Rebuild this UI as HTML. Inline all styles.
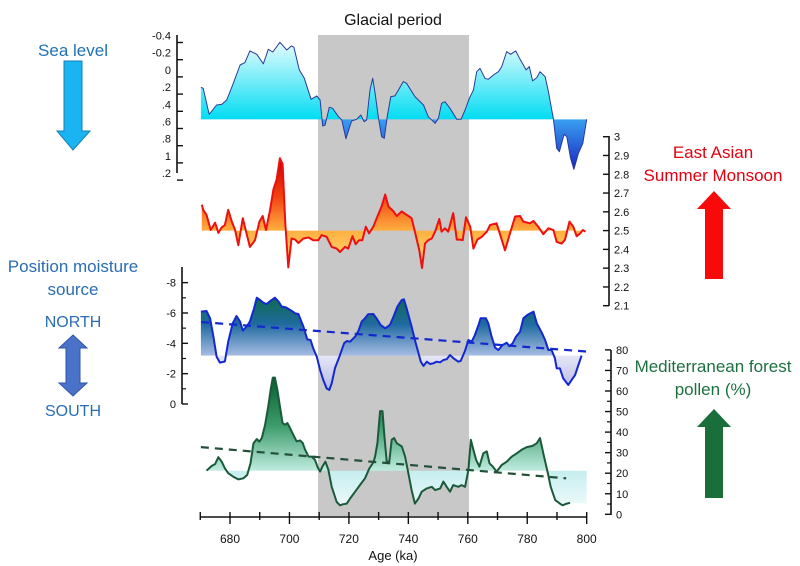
<!DOCTYPE html>
<html><head><meta charset="utf-8"><style>
html,body{margin:0;padding:0;background:#fff;}
svg{display:block;font-family:"Liberation Sans",sans-serif;}
</style></head><body>
<svg id="chart" width="800" height="566" viewBox="0 0 800 566">
<defs>
<linearGradient id="gSeaUp" gradientUnits="userSpaceOnUse" x1="0" y1="40" x2="0" y2="120"><stop offset="0" stop-color="#ecfdff"/><stop offset="1" stop-color="#00dcf2"/></linearGradient>
<linearGradient id="gSeaDn" gradientUnits="userSpaceOnUse" x1="0" y1="119" x2="0" y2="172"><stop offset="0" stop-color="#3aa0f0"/><stop offset="1" stop-color="#1522c0"/></linearGradient>
<linearGradient id="gMonUp" gradientUnits="userSpaceOnUse" x1="0" y1="160" x2="0" y2="231"><stop offset="0" stop-color="#cc0000"/><stop offset="0.5" stop-color="#f04010"/><stop offset="1" stop-color="#ffb040"/></linearGradient>
<linearGradient id="gMonDn" gradientUnits="userSpaceOnUse" x1="0" y1="231" x2="0" y2="268"><stop offset="0" stop-color="#ffb040"/><stop offset="1" stop-color="#ffe080"/></linearGradient>
<linearGradient id="gMoiUp" gradientUnits="userSpaceOnUse" x1="0" y1="292" x2="0" y2="356"><stop offset="0" stop-color="#0b6a3a"/><stop offset="0.5" stop-color="#1f6aa0"/><stop offset="1" stop-color="#a8bde4"/></linearGradient>
<linearGradient id="gMoiDn" gradientUnits="userSpaceOnUse" x1="0" y1="356" x2="0" y2="392"><stop offset="0" stop-color="#e6e6f6"/><stop offset="1" stop-color="#b4b4e4"/></linearGradient>
<linearGradient id="gPolUp" gradientUnits="userSpaceOnUse" x1="0" y1="378" x2="0" y2="471"><stop offset="0" stop-color="#08602c"/><stop offset="0.5" stop-color="#3a9a68"/><stop offset="1" stop-color="#c0ece0"/></linearGradient>
<linearGradient id="gPolDn" gradientUnits="userSpaceOnUse" x1="0" y1="471" x2="0" y2="506"><stop offset="0" stop-color="#c6eef0"/><stop offset="1" stop-color="#eef9fa"/></linearGradient>
</defs>
<rect x="318" y="35" width="151" height="481" fill="#c8c8c8"/>
<text x="393" y="25" font-size="16" text-anchor="middle" fill="#111">Glacial period</text>
<g id="series"></g>
<g id="axes"></g>

<text x="73" y="56" font-size="17" text-anchor="middle" fill="#1f72b8">Sea level</text>
<path d="M64,61 H82 V131 H90 L73,150 L57,131 H64 Z" fill="#1ab4f2" stroke="#1280b8" stroke-width="1"/>
<text x="73" y="272" font-size="17" text-anchor="middle" fill="#2a6db5">Position moisture</text>
<text x="73" y="295" font-size="17" text-anchor="middle" fill="#2a6db5">source</text>
<text x="73" y="327" font-size="16" text-anchor="middle" fill="#2a6db5">NORTH</text>
<path d="M73,335 L87,348 H80 V383 H87 L73,396 L59,383 H66 V348 H59 Z" fill="#4a72c8" stroke="#2e55a8" stroke-width="1"/>
<text x="73" y="416" font-size="16" text-anchor="middle" fill="#2a6db5">SOUTH</text>
<text x="713" y="158" font-size="17" text-anchor="middle" fill="#e3000f">East Asian</text>
<text x="713" y="181" font-size="17" text-anchor="middle" fill="#e3000f">Summer Monsoon</text>
<path d="M714,191 L731,209 H723 V279 H705 V209 H697 Z" fill="#f80a0a"/>
<text x="713" y="372" font-size="17" text-anchor="middle" fill="#1d7040">Mediterranean forest</text>
<text x="713" y="395" font-size="17" text-anchor="middle" fill="#1d7040">pollen (%)</text>
<path d="M714,409 L731,427 H723 V498 H705 V427 H697 Z" fill="#1a6e3a"/>
</svg>
<script>
// ---------- data ----------
const seaAge = [670.2,671.0,673.0,675.5,677.2,678.9,681.1,683.4,685.0,686.7,689.0,691.2,692.9,694.4,696.8,699.1,700.7,701.5,703.3,705.0,707.3,709.2,710.3,711.2,712.0,713.4,714.5,716.5,717.6,719.0,720.9,722.6,724.0,725.1,726.0,727.1,728.0,728.8,729.9,731.0,731.9,732.9,734.1,735.5,738.3,739.4,742.2,745.1,746.7,749.0,750.1,751.2,752.3,754.0,756.3,757.7,759.1,760.5,761.9,763.0,764.1,765.8,766.9,768.6,770.3,771.4,773.1,774.4,776.1,777.6,779.6,780.7,781.8,783.2,784.3,786.0,787.1,788.8,789.9,790.8,792.4,793.3,794.6,795.7,797.2,798.7,800.0];
const seaVal = [0.115,0.127,0.427,0.319,0.312,0.262,0.069,-0.142,-0.169,-0.304,-0.265,-0.154,-0.323,-0.292,-0.404,-0.315,-0.362,-0.346,-0.085,0.012,0.254,0.215,0.262,0.562,0.550,0.346,0.358,0.454,0.492,0.708,0.504,0.485,0.435,0.512,0.492,0.146,0.012,0.185,0.454,0.685,0.704,0.454,0.223,0.215,0.050,0.069,0.223,0.319,0.454,0.531,0.473,0.300,0.281,0.358,0.485,0.485,0.377,0.242,0.146,-0.065,-0.104,0.012,0.023,-0.027,-0.065,-0.123,-0.296,-0.265,-0.304,-0.208,-0.085,-0.123,0.042,0.004,-0.065,-0.008,0.165,0.481,0.819,0.858,0.658,0.685,0.935,1.062,0.877,0.762,0.485];
const seaTicks = ["-0.4","-0.2","0",".2",".4",".6",".8","1",".2"];

const monAge = [670.5,671.0,672.1,673.5,675.0,676.1,677.2,678.3,679.4,680.6,681.7,682.8,684.3,685.4,686.7,688.4,689.9,691.0,692.1,693.5,694.6,695.7,696.8,697.7,698.6,699.6,700.7,701.9,703.0,704.7,706.4,708.0,709.7,710.8,712.5,714.2,715.9,717.0,718.7,719.8,721.2,722.3,723.4,724.5,725.7,726.8,728.2,729.6,731.0,732.2,733.3,735.0,736.1,737.8,739.4,741.1,742.2,743.7,744.6,745.6,746.7,747.9,749.0,750.4,751.2,752.3,753.4,755.1,756.3,757.4,758.3,759.4,760.8,761.9,763.2,764.7,766.4,767.5,769.7,771.1,772.5,774.2,775.9,777.6,778.7,780.9,782.1,783.7,785.4,787.1,788.8,789.9,791.6,792.7,794.2,795.5,796.6,797.8,798.7,799.6];
const monVal = [2.638,2.611,2.584,2.503,2.542,2.488,2.517,2.530,2.611,2.548,2.503,2.422,2.566,2.494,2.413,2.449,2.548,2.578,2.503,2.611,2.719,2.773,2.885,2.854,2.539,2.304,2.458,2.452,2.434,2.458,2.463,2.449,2.449,2.476,2.467,2.413,2.404,2.386,2.413,2.404,2.470,2.427,2.449,2.449,2.521,2.485,2.521,2.575,2.629,2.692,2.629,2.602,2.578,2.602,2.584,2.566,2.494,2.395,2.301,2.431,2.449,2.458,2.494,2.562,2.494,2.512,2.494,2.593,2.452,2.452,2.449,2.571,2.521,2.404,2.452,2.467,2.494,2.530,2.539,2.467,2.395,2.485,2.575,2.578,2.548,2.539,2.551,2.521,2.481,2.512,2.503,2.440,2.431,2.452,2.548,2.521,2.470,2.485,2.503,2.494];
const monTicks = ["3","2.9","2.8","2.7","2.6","2.5","2.4","2.3","2.2","2.1"];

const moiAge = [670.2,672.1,673.3,674.4,675.5,676.6,678.3,679.4,680.9,682.2,683.4,684.3,685.6,686.7,688.1,689.0,690.1,691.2,692.3,693.7,695.1,696.3,697.4,698.8,700.7,701.9,703.0,704.7,706.0,707.1,708.0,709.2,710.3,711.4,712.5,713.4,714.2,715.3,716.8,718.4,719.3,720.4,722.1,723.2,724.3,725.4,726.5,728.2,729.3,730.7,732.2,733.8,735.0,736.3,737.8,738.5,739.4,741.1,742.2,743.4,744.2,745.1,746.2,747.3,748.4,749.5,750.7,751.8,752.9,754.0,755.2,756.8,757.6,759.1,760.2,761.3,762.4,763.6,764.3,766.1,766.9,768.0,769.2,770.3,771.7,773.1,774.0,775.1,776.2,777.6,778.7,780.0,782.1,783.2,784.9,786.0,787.1,788.2,789.3,789.9,791.0,792.1,793.8,795.3,796.1,797.2,798.3];
const moiVal = [-6.09,-6.13,-5.65,-4.44,-3.12,-2.73,-2.80,-4.11,-5.32,-5.80,-5.43,-4.84,-5.10,-5.43,-6.31,-7.01,-6.86,-6.68,-6.59,-6.81,-7.01,-6.75,-6.42,-6.37,-6.15,-5.98,-5.93,-5.10,-4.26,-4.22,-3.67,-3.12,-2.24,-1.58,-1.03,-0.92,-1.36,-2.35,-3.12,-4.00,-4.15,-4.11,-4.44,-4.81,-5.43,-5.65,-5.91,-5.93,-5.65,-5.21,-4.99,-5.21,-5.76,-6.42,-6.86,-6.90,-6.31,-5.10,-4.22,-3.34,-2.79,-2.51,-2.79,-2.64,-2.68,-2.79,-2.75,-2.90,-2.95,-3.23,-3.01,-2.79,-2.84,-3.52,-4.22,-4.11,-4.55,-5.21,-5.65,-5.65,-5.32,-4.44,-3.71,-3.56,-3.89,-4.04,-3.82,-4.00,-4.44,-4.77,-5.65,-5.87,-6.09,-5.32,-4.70,-4.22,-3.56,-3.56,-3.01,-2.35,-2.35,-1.69,-1.25,-1.69,-1.91,-2.57,-3.19];
const moiTrendAge = [670.3, 800.5];
const moiTrendVal = [-5.4, -3.45];
const moiTicks = ["-8","-6","-4","-2","0"];

const polAge = [672.1,673.8,675.0,676.1,677.2,678.3,679.4,681.1,682.8,684.5,685.8,686.9,687.9,689.0,689.9,690.7,691.8,692.9,693.7,694.4,695.1,695.9,696.8,697.7,698.5,699.3,700.2,701.3,702.4,703.6,704.5,705.2,706.4,707.5,708.6,709.4,710.3,711.2,712.1,713.1,714.2,715.9,717.0,718.1,719.3,720.4,722.1,723.7,725.4,726.9,728.2,728.8,729.6,730.5,731.3,731.9,732.7,733.6,734.4,735.2,736.1,737.8,738.9,740.0,741.1,742.2,743.4,744.5,746.2,747.9,749.0,750.7,751.8,752.9,754.0,755.1,756.8,757.9,759.1,760.2,761.0,761.9,762.8,763.9,765.2,766.4,767.3,768.4,769.7,771.4,773.1,774.8,776.5,778.1,779.8,781.8,783.2,784.3,785.4,786.8,787.9,789.4,791.0,791.9,793.3,794.4];
const polVal = [21.2,23.5,24.5,27.8,25.6,22.4,20.0,18.3,17.0,17.5,19.1,24.8,34.6,36.6,35.4,37.1,43.6,52.6,60.8,66.5,66.5,60.8,52.6,44.4,43.6,44.4,42.0,38.7,35.5,35.9,34.6,31.7,28.1,28.1,26.5,23.2,20.8,23.5,25.6,21.6,13.4,6.0,4.4,4.9,5.2,7.7,11.0,14.2,17.5,22.4,25.2,28.1,34.6,50.2,50.2,38.7,25.6,25.6,36.3,37.1,34.6,33.0,28.1,19.9,11.8,5.2,7.7,11.0,12.6,13.4,11.8,12.6,15.9,13.4,11.0,14.2,13.4,14.2,13.4,21.6,36.3,31.4,26.5,23.2,29.7,30.6,24.8,23.2,20.8,24.0,25.6,28.1,29.7,31.4,32.7,33.3,34.6,37.1,29.7,20.8,13.4,6.9,5.2,4.4,5.2,5.6];
const polTrendAge = [670.2, 793.1];
const polTrendVal = [32.7, 17.5];
const polTicks = ["0","10","20","30","40","50","60","70","80"];

const ageTicks = [680,700,720,740,760,780,800];

// ---------- scales ----------
const xAge = a => 230 + (a - 680) * 2.9725;
const ySea = v => 77.3 + v * 86.7;
const yMon = v => 136.7 + (3 - v) * 187.8;
const yMoi = v => 404 + v * 15.17;
const yPol = v => 514.3 - v * 2.055;

const NS = "http://www.w3.org/2000/svg";
const svg = document.getElementById("chart");
const gS = document.getElementById("series");
const gA = document.getElementById("axes");
function mk(tag, attrs, parent) {
  const e = document.createElementNS(NS, tag);
  for (const k in attrs) e.setAttribute(k, attrs[k]);
  parent.appendChild(e);
  return e;
}
let clipId = 0;
function panel(name, ages, vals, ys, base, gUp, gDn, color, width, extra) {
  const yb = ys(base);
  const pts = ages.map((a, i) => xAge(a).toFixed(1) + "," + ys(vals[i]).toFixed(1));
  let poly = "M" + xAge(ages[0]).toFixed(1) + "," + yb + " L" + pts.join(" L");
  if (extra) poly += " L" + xAge(extra[0]).toFixed(1) + "," + ys(extra[1]).toFixed(1);
  const lastA = extra ? extra[0] : ages[ages.length - 1];
  poly += " L" + xAge(lastA).toFixed(1) + "," + yb + " Z";
  const defs = svg.querySelector("defs");
  const c1 = "c" + (clipId++), c2 = "c" + (clipId++);
  const cp1 = mk("clipPath", {id: c1}, defs); mk("rect", {x: 0, y: 0, width: 800, height: yb}, cp1);
  const cp2 = mk("clipPath", {id: c2}, defs); mk("rect", {x: 0, y: yb, width: 800, height: 600}, cp2);
  const up = mk("path", {d: poly, fill: "url(#" + gUp + ")", "clip-path": "url(#" + c1 + ")"}, gS);
  
  
  const dn = mk("path", {d: poly, fill: "url(#" + gDn + ")", "clip-path": "url(#" + c2 + ")"}, gS);
  
  
  const ln = mk("path", {d: "M" + pts.join(" L"), fill: "none", stroke: color, "stroke-width": width, "stroke-linejoin": "round"}, gS);
  
  
}
function trend(name, ta, tv, ys, color) {
  const l = mk("line", {x1: xAge(ta[0]), y1: ys(tv[0]), x2: xAge(ta[1]), y2: ys(tv[1]), stroke: color, "stroke-width": 2.2, "stroke-dasharray": "8,6"}, gS);
  
  
}
panel("sea-level", seaAge, seaVal, ySea, 0.485, "gSeaUp", "gSeaDn", "#2a3a9a", 1);
panel("monsoon", monAge, monVal, yMon, 2.5, "gMonUp", "gMonDn", "#ee1010", 2);
panel("moisture", moiAge, moiVal, yMoi, -3.19, "gMoiUp", "gMoiDn", "#1428d0", 2);
trend("moisture-trend", moiTrendAge, moiTrendVal, yMoi, "#1428d0");
panel("pollen", polAge, polVal, yPol, 21.2, "gPolUp", "gPolDn", "#1a5a3a", 2, [800, 5.2]);
trend("pollen-trend", polTrendAge, polTrendVal, yPol, "#24503a");

// ---------- axes ----------
function axisV(name, x, y0, y1, side, tickYs, labels, labelDy, minor) {
  const a = mk("line", {x1: x, y1: y0, x2: x, y2: y1, stroke: "#111", "stroke-width": 1.6}, gA);
  
  
  const d = side === "left" ? 1 : -1;
  tickYs.forEach((ty, i) => {
    mk("line", {x1: x, y1: ty, x2: x + d * 6, y2: ty, stroke: "#111", "stroke-width": 1.4}, gA);
    const t = mk("text", {x: side === "left" ? x - 6 : x + 5, y: ty + labelDy + 4, "font-size": 11, "text-anchor": side === "left" ? "end" : "start", fill: "#111"}, gA);
    t.textContent = labels[i];
    
    
  });
  (minor || []).forEach(ty => mk("line", {x1: x, y1: ty, x2: x + d * 4, y2: ty, stroke: "#111", "stroke-width": 1.2}, gA));
}
axisV("sea-level-axis", 177, 35, 173, "left", seaTicks.map((s, i) => 42.5 + i * 17.2), seaTicks, -7);
axisV("monsoon-axis", 609, 136, 306, "right", monTicks.map(s => yMon(parseFloat(s))), monTicks, 0);
axisV("moisture-axis", 182, 267, 404, "left", moiTicks.map(s => yMoi(parseFloat(s))), moiTicks, 0, [-7, -5, -3, -1].map(yMoi));
axisV("pollen-axis", 611, 350, 515, "right", polTicks.map(s => yPol(parseFloat(s))), polTicks, 0, [5, 15, 25, 35, 45, 55, 65, 75].map(yPol));

const xa = mk("line", {x1: 200, y1: 517, x2: 587, y2: 517, stroke: "#111", "stroke-width": 1.6}, gA);


for (let a = 670; a <= 800; a += 10) {
  const major = ageTicks.indexOf(a) >= 0;
  mk("line", {x1: xAge(a), y1: 512, x2: xAge(a), y2: major ? 524 : 520, stroke: "#111", "stroke-width": 1.4}, gA);
}
ageTicks.forEach(a => {
  const t = mk("text", {x: xAge(a), y: 543, "font-size": 12, "text-anchor": "middle", fill: "#111"}, gA);
  t.textContent = a;
  
  
});
const xt = mk("text", {x: 393, y: 560, "font-size": 13, "text-anchor": "middle", fill: "#111"}, gA);
xt.textContent = "Age (ka)";


</script>
</body></html>
